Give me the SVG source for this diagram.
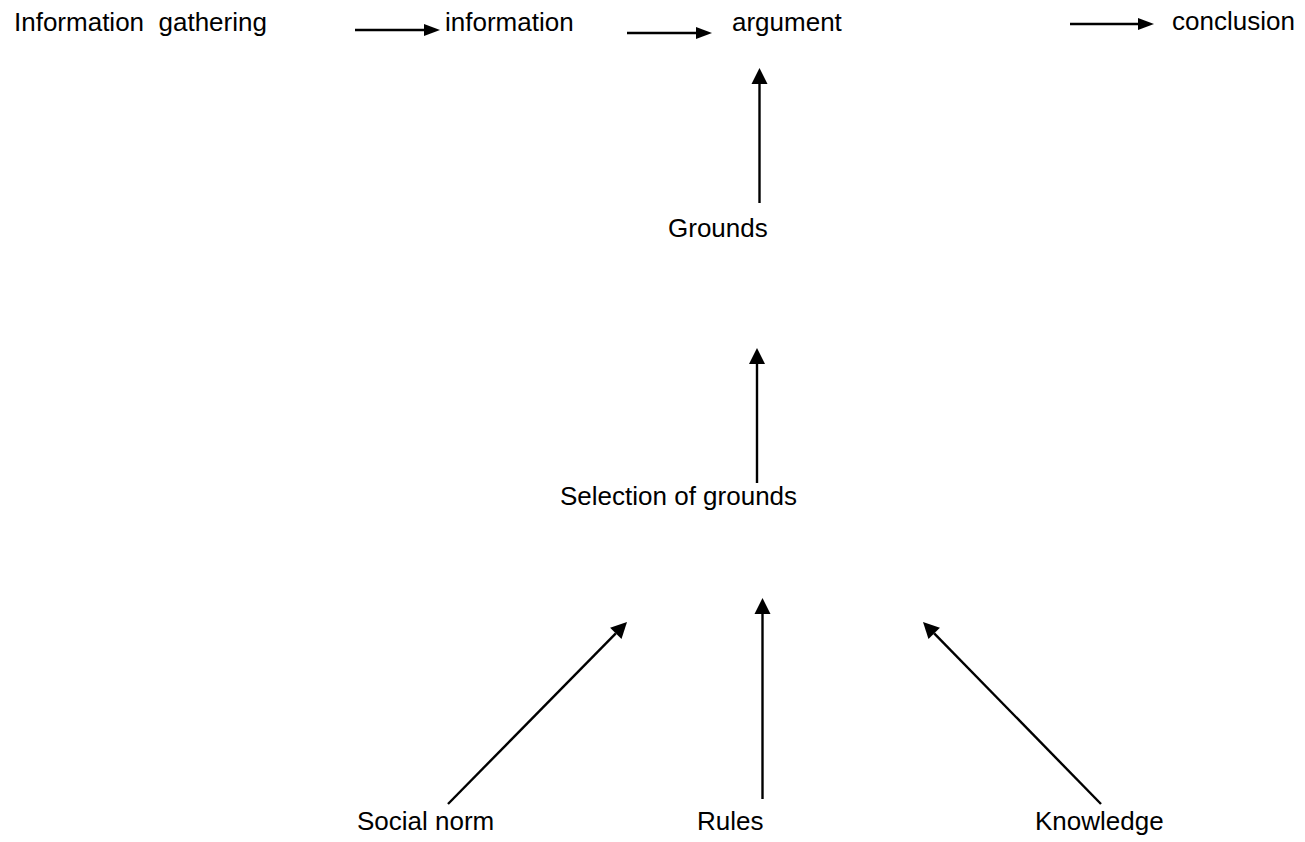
<svg xmlns="http://www.w3.org/2000/svg" width="1305" height="842" viewBox="0 0 1305 842">
<style>
text{font-family:"Liberation Sans",Arial,sans-serif;font-size:26px;fill:#000;white-space:pre}
.c{stroke:#000;stroke-width:2.4;fill:none}
</style>
<defs>
<marker id="ah" markerUnits="userSpaceOnUse" markerWidth="16" markerHeight="12" refX="0" refY="6" orient="auto" overflow="visible"><path d="M0,0 L16,6 L0,12 z" fill="#000"/></marker>
<marker id="av" markerUnits="userSpaceOnUse" markerWidth="16" markerHeight="16" refX="0" refY="8" orient="auto" overflow="visible"><path d="M0,0 L16,8 L0,16 z" fill="#000"/></marker>
</defs>
<rect width="1305" height="842" fill="#fff"/>
<g id="connectors">
<line class="c" x1="355" y1="30" x2="424" y2="30" marker-end="url(#ah)"/>
<line class="c" x1="627" y1="33" x2="696" y2="33" marker-end="url(#ah)"/>
<line class="c" x1="1070" y1="24" x2="1138" y2="24" marker-end="url(#ah)"/>
<line class="c" x1="759.5" y1="203" x2="759.5" y2="84" marker-end="url(#av)"/>
<line class="c" x1="757" y1="483" x2="757" y2="364" marker-end="url(#av)"/>
<line class="c" x1="762.5" y1="799" x2="762.5" y2="614" marker-end="url(#av)"/>
<line class="c" x1="448" y1="804" x2="615.8" y2="633.4" marker-end="url(#av)"/>
<line class="c" x1="1101" y1="804" x2="934.2" y2="633.4" marker-end="url(#av)"/>
</g>
<g id="info-gathering"><text x="14" y="31">Information  gathering</text></g>
<g id="information"><text x="445" y="31">information</text></g>
<g id="argument"><text x="732" y="31">argument</text></g>
<g id="conclusion"><text x="1172" y="30">conclusion</text></g>
<g id="grounds"><text x="668" y="237">Grounds</text></g>
<g id="selection"><text x="560" y="505">Selection of grounds</text></g>
<g id="social-norm"><text x="357" y="830">Social norm</text></g>
<g id="rules"><text x="697" y="830">Rules</text></g>
<g id="knowledge"><text x="1035" y="830">Knowledge</text></g>
</svg>
